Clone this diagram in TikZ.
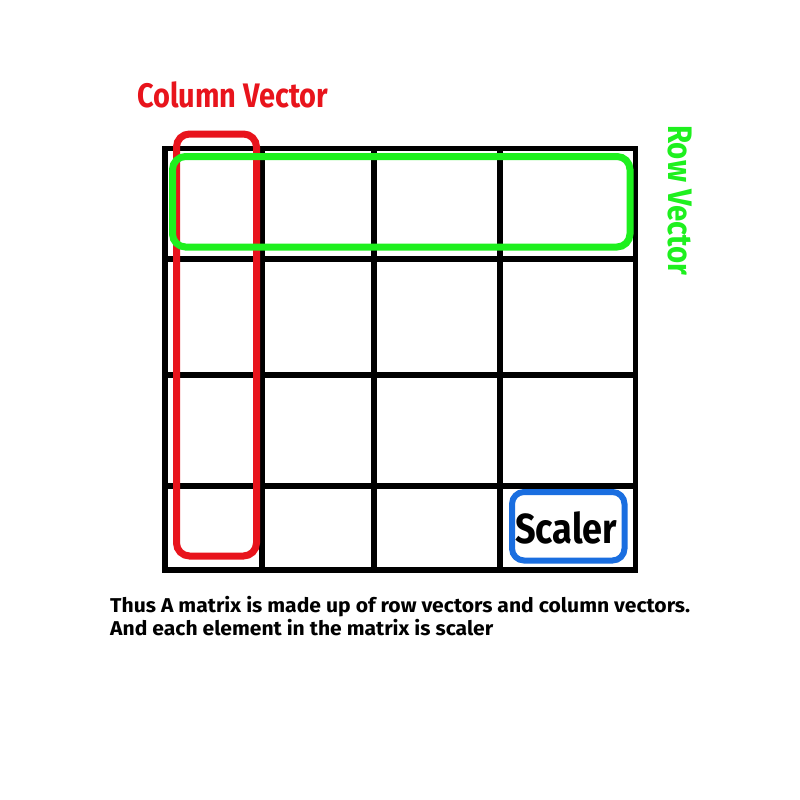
\documentclass[tikz,border=0pt]{standalone}
\usepackage{fontspec}
\setmainfont{Fira Sans}
\usepackage{graphicx}
\definecolor{cred}{HTML}{E8141C}
\definecolor{cgreen}{HTML}{1EF01E}
\definecolor{cblue}{HTML}{1A6EE0}
\newcommand\fitw[2]{\resizebox{#1}{\height}{#2}}
\begin{document}
\begin{tikzpicture}[x=1pt,y=-1pt,
  gridline/.style={line width=5.5pt,black},
  hl/.style={line width=7pt,rounded corners=13pt},
  lbl/.style={inner sep=0pt,font=\bfseries}]
\useasboundingbox (0,0) rectangle (800,800);
\fill[white] (0,0) rectangle (800,800);
% grid
\draw[gridline] (165,148.5) rectangle (635.5,570);
\foreach \x in {262,374,500} \draw[gridline] (\x,148.5) -- (\x,570);
\foreach \y in {259,375,486} \draw[gridline] (165,\y) -- (635.5,\y);
% column vector highlight
\draw[hl,cred] (176.5,134) rectangle (256.5,556);
% scaler highlight
\draw[hl,cblue,line width=6pt,rounded corners=12pt] (512,492) rectangle (624.5,560.5);
% row vector highlight
\draw[hl,cgreen] (172.5,156.5) rectangle (630,247);
% labels
\node[lbl,text=cred,anchor=base west,font=\bfseries\fontsize{34}{34}\selectfont] (colv) at (137,107) {\fitw{191pt}{Column Vector}};
\node[lbl,text=cgreen,anchor=base west,rotate=-90,font=\bfseries\fontsize{34}{34}\selectfont] (rowv) at (668,125) {\fitw{150pt}{Row Vector}};
\node[lbl,anchor=base west,font=\bfseries\fontsize{42}{42}\selectfont] (scal) at (515,543) {\fitw{102pt}{Scaler}};
\node[lbl,anchor=base west,font=\bfseries\fontsize{20}{20}\selectfont] (line1) at (110,612) {\fitw{580pt}{Thus A matrix is made up of row vectors and column vectors.}};
\node[lbl,anchor=base west,font=\bfseries\fontsize{20}{20}\selectfont] (line2) at (110,635) {\fitw{383pt}{And each element in the matrix is scaler}};
\end{tikzpicture}
\end{document}
